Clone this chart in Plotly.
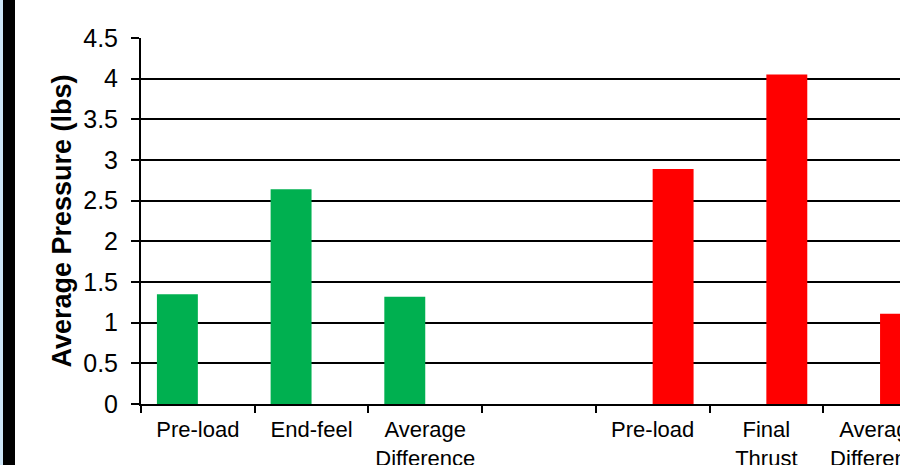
import plotly.graph_objects as go

# Category labels along the x axis (slot 3 is an empty spacer between groups)
categories = ["Pre-load", "End-feel", "Average<br>Difference", "",
              "Pre-load", "Final<br>Thrust", "Average<br>Difference"]

# Average pressure (lbs) for each group
green_values = [1.35, 2.64, 1.32, None, None, None, None]
red_values = [None, None, None, None, 2.89, 4.05, 1.11]

y_ticks = [0, 0.5, 1, 1.5, 2, 2.5, 3, 3.5, 4, 4.5]
y_tick_text = ["0", "0.5", "1", "1.5", "2", "2.5", "3", "3.5", "4", "4.5"]

x_pos = list(range(len(categories)))

W, H = 900, 465
L, R, T, B = 141, 0, 38, 61
plot_w = W - L - R
slot_px = 113.7
x_hi = -0.5 + plot_w / slot_px

fig = go.Figure()
fig.add_trace(go.Bar(x=x_pos, y=green_values, marker_color="#00B050",
                     marker_line_width=0, name="green"))
fig.add_trace(go.Bar(x=x_pos, y=red_values, marker_color="#FF0000",
                     marker_line_width=0, name="red"))

# Decorative strips at the left edge of the page
def px_to_paper(px):
    return (px - L) / plot_w

fig.add_shape(type="rect", xref="paper", yref="paper",
              x0=px_to_paper(-2), x1=px_to_paper(3), y0=-1, y1=2,
              fillcolor="#CDE6F7", line_width=0, layer="below")
fig.add_shape(type="rect", xref="paper", yref="paper",
              x0=px_to_paper(3), x1=px_to_paper(15), y0=-1, y1=2,
              fillcolor="#000000", line_width=0, layer="below")

fig.update_layout(
    width=W, height=H,
    margin=dict(l=L, r=R, t=T, b=B, pad=0, autoexpand=False),
    paper_bgcolor="white", plot_bgcolor="white",
    barmode="group", bargap=0.28, bargroupgap=0,
    showlegend=False,
    font=dict(family="Liberation Sans, Arial, sans-serif", color="black"),
    xaxis=dict(
        range=[-0.5, x_hi], automargin=False,
        tickvals=[i - 0.5 for i in range(len(categories) + 1)],
        ticktext=[""] * (len(categories) + 1),
        ticks="outside", ticklen=7, tickwidth=1.5, tickcolor="black",
        showgrid=False, zeroline=False,
        showline=True, linecolor="black", linewidth=2,
    ),
    xaxis2=dict(
        overlaying="x", side="bottom", matches="x", automargin=False,
        tickvals=x_pos, ticktext=categories,
        ticks="", showgrid=False, zeroline=False, showline=False,
        tickfont=dict(size=22, color="black"),
        ticklabelstandoff=10,
        ticklabeloverflow="allow",
    ),
    yaxis=dict(
        range=[0, 4.5], automargin=False,
        tickvals=y_ticks, ticktext=y_tick_text,
        ticks="outside", ticklen=8, tickwidth=1.5, tickcolor="black",
        tickfont=dict(size=25, color="black"),
        ticklabelstandoff=8,
        showgrid=True, gridcolor="black", gridwidth=1.5,
        zeroline=False,
        showline=True, linecolor="black", linewidth=2,
        title=dict(text="<b>Average Pressure (lbs)</b>",
                   font=dict(size=27, color="black"), standoff=4),
    ),
)

# Invisible trace bound to the label axis so it renders
fig.add_trace(go.Scatter(x=x_pos, y=[0] * len(x_pos), xaxis="x2",
                         mode="markers", marker=dict(opacity=0),
                         hoverinfo="skip", showlegend=False))

fig.write_html("out.html")
